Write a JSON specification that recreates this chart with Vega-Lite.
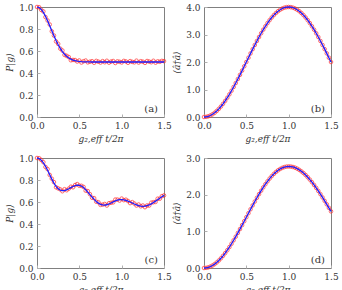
{
  "$schema": "https://vega.github.io/schema/vega-lite/v6.json",
  "padding": {"left": 5, "top": 2, "right": 0, "bottom": 0},
  "config": {
    "view": {"stroke": "#808080", "strokeWidth": 1},
    "axis": {
      "grid": false, "domain": false, "tickSize": -3, "tickColor": "#b0b0b0", "labelOverlap": false, "labelBound": false, "labelFlush": false,
      "labelFont": "DejaVu Serif", "labelFontSize": 9, "labelColor": "#333333", "labelPadding": 7,
      "titleFont": "DejaVu Serif", "titleFontSize": 9, "titleFontStyle": "italic", "titleFontWeight": "normal", "titleColor": "#333333"
    }
  },
  "datasets": {
    "d": [
      {"t":0,"a":1.0,"sa":1.0,"b":0,"c":1.0,"sc":1.0,"d":0},
      {"t":0.025,"a":0.9943,"sa":0.998,"b":0.0062,"c":0.995,"sc":0.998,"d":0.0043},
      {"t":0.05,"a":0.9774,"sa":0.9734,"b":0.0246,"c":0.980,"sc":0.982,"d":0.0170},
      {"t":0.075,"a":0.9506,"sa":0.9596,"b":0.0553,"c":0.956,"sc":0.962,"d":0.0383},
      {"t":0.1,"a":0.9156,"sa":0.9086,"b":0.0979,"c":0.925,"sc":0.919,"d":0.0678},
      {"t":0.125,"a":0.8745,"sa":0.8775,"b":0.1522,"c":0.888,"sc":0.899,"d":0.1054},
      {"t":0.15,"a":0.8298,"sa":0.8408,"b":0.2180,"c":0.848,"sc":0.846,"d":0.1510},
      {"t":0.175,"a":0.7837,"sa":0.7787,"b":0.2947,"c":0.808,"sc":0.812,"d":0.2041},
      {"t":0.2,"a":0.7386,"sa":0.7406,"b":0.3820,"c":0.772,"sc":0.781,"d":0.2645},
      {"t":0.225,"a":0.6960,"sa":0.6870,"b":0.4792,"c":0.742,"sc":0.734,"d":0.3318},
      {"t":0.25,"a":0.6573,"sa":0.6643,"b":0.5858,"c":0.721,"sc":0.724,"d":0.4057},
      {"t":0.275,"a":0.6234,"sa":0.6214,"b":0.7011,"c":0.708,"sc":0.715,"d":0.4855},
      {"t":0.3,"a":0.5946,"sa":0.6046,"b":0.8244,"c":0.703,"sc":0.698,"d":0.5709},
      {"t":0.325,"a":0.5709,"sa":0.5649,"b":0.9550,"c":0.704,"sc":0.716,"d":0.6613},
      {"t":0.35,"a":0.5519,"sa":0.5559,"b":1.0920,"c":0.710,"sc":0.707,"d":0.7562},
      {"t":0.375,"a":0.5371,"sa":0.5451,"b":1.2346,"c":0.720,"sc":0.721,"d":0.8550},
      {"t":0.4,"a":0.5259,"sa":0.5159,"b":1.3820,"c":0.731,"sc":0.739,"d":0.9570},
      {"t":0.425,"a":0.5177,"sa":0.5187,"b":1.5331,"c":0.741,"sc":0.734,"d":1.0617},
      {"t":0.45,"a":0.5118,"sa":0.5178,"b":1.6871,"c":0.749,"sc":0.754,"d":1.1683},
      {"t":0.475,"a":0.5077,"sa":0.5047,"b":1.8431,"c":0.753,"sc":0.763,"d":1.2763},
      {"t":0.5,"a":0.5049,"sa":0.5139,"b":2.0,"c":0.752,"sc":0.748,"d":1.385},
      {"t":0.525,"a":0.5031,"sa":0.4951,"b":2.1569,"c":0.745,"sc":0.747,"d":1.4937},
      {"t":0.55,"a":0.5019,"sa":0.5069,"b":2.3129,"c":0.731,"sc":0.737,"d":1.6017},
      {"t":0.575,"a":0.5011,"sa":0.5131,"b":2.4669,"c":0.712,"sc":0.703,"d":1.7083},
      {"t":0.6,"a":0.5007,"sa":0.4967,"b":2.6180,"c":0.690,"sc":0.699,"d":1.8130},
      {"t":0.625,"a":0.5004,"sa":0.5024,"b":2.7654,"c":0.667,"sc":0.671,"d":1.9150},
      {"t":0.65,"a":0.5002,"sa":0.5072,"b":2.9080,"c":0.645,"sc":0.639,"d":2.0138},
      {"t":0.675,"a":0.5,"sa":0.493,"b":3.0450,"c":0.624,"sc":0.635,"d":2.1087},
      {"t":0.7,"a":0.5,"sa":0.510,"b":3.1756,"c":0.605,"sc":0.603,"d":2.1991},
      {"t":0.725,"a":0.5,"sa":0.503,"b":3.2989,"c":0.590,"sc":0.598,"d":2.2845},
      {"t":0.75,"a":0.5,"sa":0.495,"b":3.4142,"c":0.579,"sc":0.574,"d":2.3643},
      {"t":0.775,"a":0.5,"sa":0.508,"b":3.5208,"c":0.573,"sc":0.576,"d":2.4382},
      {"t":0.8,"a":0.5,"sa":0.498,"b":3.6180,"c":0.572,"sc":0.582,"d":2.5055},
      {"t":0.825,"a":0.5,"sa":0.511,"b":3.7053,"c":0.575,"sc":0.568,"d":2.5659},
      {"t":0.85,"a":0.5,"sa":0.494,"b":3.7820,"c":0.582,"sc":0.589,"d":2.6190},
      {"t":0.875,"a":0.5,"sa":0.504,"b":3.8478,"c":0.591,"sc":0.593,"d":2.6646},
      {"t":0.9,"a":0.5,"sa":0.509,"b":3.9021,"c":0.601,"sc":0.597,"d":2.7022},
      {"t":0.925,"a":0.5,"sa":0.491,"b":3.9447,"c":0.610,"sc":0.622,"d":2.7317},
      {"t":0.95,"a":0.5,"sa":0.506,"b":3.9754,"c":0.617,"sc":0.622,"d":2.7530},
      {"t":0.975,"a":0.5,"sa":0.502,"b":3.9938,"c":0.621,"sc":0.613,"d":2.7657},
      {"t":1.0,"a":0.5,"sa":0.496,"b":4.0,"c":0.622,"sc":0.631,"d":2.77},
      {"t":1.025,"a":0.5,"sa":0.510,"b":3.9938,"c":0.620,"sc":0.617,"d":2.7662},
      {"t":1.05,"a":0.5,"sa":0.505,"b":3.9754,"c":0.615,"sc":0.621,"d":2.7549},
      {"t":1.075,"a":0.5,"sa":0.493,"b":3.9447,"c":0.608,"sc":0.609,"d":2.7361},
      {"t":1.1,"a":0.5,"sa":0.508,"b":3.9021,"c":0.600,"sc":0.590,"d":2.7100},
      {"t":1.125,"a":0.5,"sa":0.501,"b":3.8478,"c":0.591,"sc":0.599,"d":2.6768},
      {"t":1.15,"a":0.5,"sa":0.497,"b":3.7820,"c":0.582,"sc":0.586,"d":2.6365},
      {"t":1.175,"a":0.5,"sa":0.512,"b":3.7053,"c":0.574,"sc":0.568,"d":2.5895},
      {"t":1.2,"a":0.5,"sa":0.495,"b":3.6180,"c":0.567,"sc":0.577,"d":2.5360},
      {"t":1.225,"a":0.5,"sa":0.507,"b":3.5208,"c":0.563,"sc":0.561,"d":2.4765},
      {"t":1.25,"a":0.5,"sa":0.503,"b":3.4142,"c":0.561,"sc":0.568,"d":2.4112},
      {"t":1.275,"a":0.5,"sa":0.492,"b":3.2989,"c":0.562,"sc":0.553,"d":2.3406},
      {"t":1.3,"a":0.5,"sa":0.509,"b":3.1756,"c":0.566,"sc":0.568,"d":2.2651},
      {"t":1.325,"a":0.5,"sa":0.504,"b":3.0450,"c":0.573,"sc":0.568,"d":2.1851},
      {"t":1.35,"a":0.5,"sa":0.498,"b":2.9080,"c":0.583,"sc":0.594,"d":2.1012},
      {"t":1.375,"a":0.5,"sa":0.511,"b":2.7654,"c":0.595,"sc":0.598,"d":2.0138},
      {"t":1.4,"a":0.5,"sa":0.494,"b":2.6180,"c":0.608,"sc":0.601,"d":1.9235},
      {"t":1.425,"a":0.5,"sa":0.506,"b":2.4669,"c":0.621,"sc":0.630,"d":1.8310},
      {"t":1.45,"a":0.5,"sa":0.502,"b":2.3129,"c":0.634,"sc":0.630,"d":1.7367},
      {"t":1.475,"a":0.5,"sa":0.510,"b":2.1569,"c":0.647,"sc":0.653,"d":1.6411},
      {"t":1.5,"a":0.5,"sa":0.508,"b":2.0,"c":0.660,"sc":0.660,"d":1.545}
    ],
    "labs": [
      {"panel": "(a)", "px": 1.5, "py": 0},
      {"panel": "(b)", "px": 1.5, "py": 0},
      {"panel": "(c)", "px": 1.5, "py": 0},
      {"panel": "(d)", "px": 1.5, "py": 0}
    ]
  },
  "spacing": 9,
  "vconcat": [
    {
      "spacing": 0,
      "hconcat": [
        {
          "width": 127, "height": 110,
          "layer": [
            {"data": {"name": "d"},
             "mark": {"type": "point", "filled": false, "color": "#ff3030", "size": 13, "strokeWidth": 0.9, "opacity": 0.8},
             "encoding": {
               "x": {"field": "t", "type": "quantitative", "scale": {"domain": [0, 1.5], "nice": false}, "axis": {"tickCount": 3, "format": ".1f", "title": "g₂,eff t/2π"}},
               "y": {"field": "sa", "type": "quantitative", "scale": {"domain": [0, 1], "nice": false}, "axis": {"tickCount": 5, "format": ".1f", "title": "P|g⟩"}}}},
            {"data": {"name": "d"},
             "mark": {"type": "line", "color": "#1e1eff", "strokeWidth": 1.3},
             "encoding": {"x": {"field": "t", "type": "quantitative"}, "y": {"field": "a", "type": "quantitative"}}},
            {"data": {"name": "labs"},
             "transform": [{"filter": "datum.panel == '(a)'"}],
             "mark": {"type": "text", "align": "right", "baseline": "bottom", "dx": -6, "dy": -3, "font": "DejaVu Serif", "fontSize": 10, "color": "#333333"},
             "encoding": {"x": {"field": "px", "type": "quantitative"}, "y": {"field": "py", "type": "quantitative"}, "text": {"field": "panel"}}}
          ]
        },
        {
          "width": 127, "height": 110,
          "layer": [
            {"data": {"name": "d"},
             "mark": {"type": "point", "filled": false, "color": "#ff3030", "size": 13, "strokeWidth": 0.9, "opacity": 0.8},
             "encoding": {
               "x": {"field": "t", "type": "quantitative", "scale": {"domain": [0, 1.5], "nice": false}, "axis": {"tickCount": 3, "format": ".1f", "title": "g₂,eff t/2π"}},
               "y": {"field": "b", "type": "quantitative", "scale": {"domain": [0, 4], "nice": false}, "axis": {"tickCount": 4, "format": ".1f", "title": "⟨â†â⟩"}}}},
            {"data": {"name": "d"},
             "mark": {"type": "line", "color": "#1e1eff", "strokeWidth": 1.3},
             "encoding": {"x": {"field": "t", "type": "quantitative"}, "y": {"field": "b", "type": "quantitative"}}},
            {"data": {"name": "labs"},
             "transform": [{"filter": "datum.panel == '(b)'"}],
             "mark": {"type": "text", "align": "right", "baseline": "bottom", "dx": -6, "dy": -3, "font": "DejaVu Serif", "fontSize": 10, "color": "#333333"},
             "encoding": {"x": {"field": "px", "type": "quantitative"}, "y": {"field": "py", "type": "quantitative"}, "text": {"field": "panel"}}}
          ]
        }
      ]
    },
    {
      "spacing": 0,
      "hconcat": [
        {
          "width": 127, "height": 110,
          "layer": [
            {"data": {"name": "d"},
             "mark": {"type": "point", "filled": false, "color": "#ff3030", "size": 13, "strokeWidth": 0.9, "opacity": 0.8},
             "encoding": {
               "x": {"field": "t", "type": "quantitative", "scale": {"domain": [0, 1.5], "nice": false}, "axis": {"tickCount": 3, "format": ".1f", "title": "g₂,eff t/2π"}},
               "y": {"field": "sc", "type": "quantitative", "scale": {"domain": [0, 1], "nice": false}, "axis": {"tickCount": 5, "format": ".1f", "title": "P|g⟩"}}}},
            {"data": {"name": "d"},
             "mark": {"type": "line", "color": "#1e1eff", "strokeWidth": 1.3},
             "encoding": {"x": {"field": "t", "type": "quantitative"}, "y": {"field": "c", "type": "quantitative"}}},
            {"data": {"name": "labs"},
             "transform": [{"filter": "datum.panel == '(c)'"}],
             "mark": {"type": "text", "align": "right", "baseline": "bottom", "dx": -6, "dy": -3, "font": "DejaVu Serif", "fontSize": 10, "color": "#333333"},
             "encoding": {"x": {"field": "px", "type": "quantitative"}, "y": {"field": "py", "type": "quantitative"}, "text": {"field": "panel"}}}
          ]
        },
        {
          "width": 127, "height": 110,
          "layer": [
            {"data": {"name": "d"},
             "mark": {"type": "point", "filled": false, "color": "#ff3030", "size": 13, "strokeWidth": 0.9, "opacity": 0.8},
             "encoding": {
               "x": {"field": "t", "type": "quantitative", "scale": {"domain": [0, 1.5], "nice": false}, "axis": {"tickCount": 3, "format": ".1f", "title": "g₂,eff t/2π"}},
               "y": {"field": "d", "type": "quantitative", "scale": {"domain": [0, 3], "nice": false}, "axis": {"tickCount": 3, "format": ".1f", "title": "⟨â†â⟩"}}}},
            {"data": {"name": "d"},
             "mark": {"type": "line", "color": "#1e1eff", "strokeWidth": 1.3},
             "encoding": {"x": {"field": "t", "type": "quantitative"}, "y": {"field": "d", "type": "quantitative"}}},
            {"data": {"name": "labs"},
             "transform": [{"filter": "datum.panel == '(d)'"}],
             "mark": {"type": "text", "align": "right", "baseline": "bottom", "dx": -6, "dy": -3, "font": "DejaVu Serif", "fontSize": 10, "color": "#333333"},
             "encoding": {"x": {"field": "px", "type": "quantitative"}, "y": {"field": "py", "type": "quantitative"}, "text": {"field": "panel"}}}
          ]
        }
      ]
    }
  ]
}
